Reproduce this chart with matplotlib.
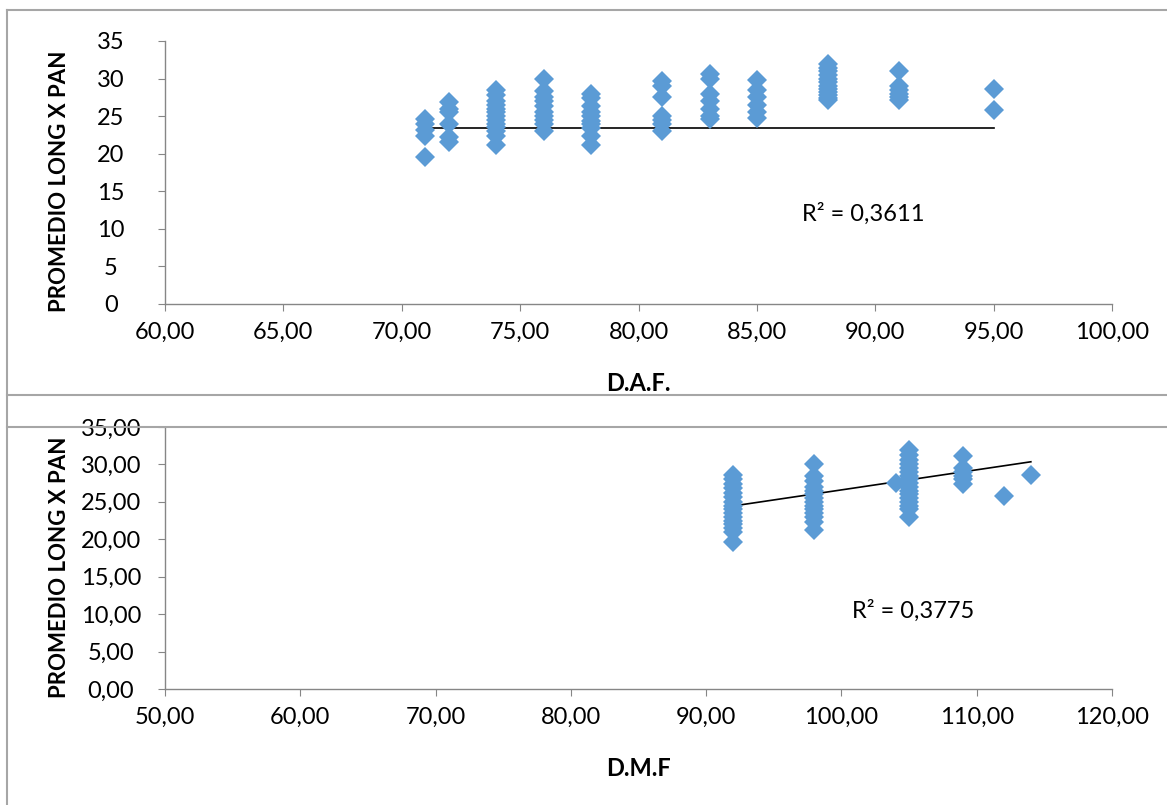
import matplotlib.pyplot as plt
from matplotlib.lines import Line2D
from matplotlib.ticker import FuncFormatter

# Datos superiores: D.A.F. vs promedio long x pan
daf_cols = [71, 72, 74, 76, 78, 81, 83, 85, 88, 91, 95]
daf_vals = [
    [24.6, 24.0, 23.2, 22.3, 19.5],
    [26.9, 26.0, 25.5, 24.0, 22.2, 21.6],
    [28.5, 27.8, 27.0, 26.5, 26.0, 25.5, 25.0, 24.5, 24.0, 23.5, 23.0, 22.3, 21.2],
    [29.9, 28.3, 27.6, 27.0, 26.3, 25.6, 25.0, 24.5, 24.0, 23.0],
    [28.0, 27.4, 26.4, 25.6, 25.0, 24.4, 24.0, 23.4, 22.4, 21.2],
    [29.7, 29.0, 27.5, 25.0, 24.5, 24.0, 23.0],
    [30.6, 30.0, 28.0, 27.0, 26.0, 25.0, 24.6],
    [29.8, 28.5, 27.5, 26.5, 25.5, 24.8],
    [31.9, 31.4, 31.0, 30.5, 30.0, 29.5, 29.0, 28.6, 28.2, 27.8, 27.4, 27.1],
    [31.0, 29.0, 28.5, 28.0, 27.5, 27.2],
    [28.6, 25.8],
]
daf_trend_x = [71, 95]
daf_trend_y = [23.4, 23.4]
daf_r2 = 'R² = 0,3611'

# Datos inferiores: D.M.F vs promedio long x pan
dmf_cols = [92, 98, 104, 105, 109, 112, 114]
dmf_vals = [
    [28.6, 28.0, 27.4, 26.8, 26.2, 25.6, 25.0, 24.5, 24.0, 23.5, 23.0, 22.5, 22.0, 21.5, 21.0, 19.6],
    [30.0, 28.5, 27.8, 27.0, 26.5, 26.0, 25.5, 25.0, 24.5, 24.0, 23.5, 23.0, 22.3, 21.2],
    [27.5],
    [31.9, 31.3, 30.6, 30.0, 29.5, 29.0, 28.5, 28.0, 27.5, 27.0, 26.5, 26.0, 25.5, 25.0, 24.5, 24.0, 23.0],
    [31.1, 29.5, 29.0, 28.5, 28.0, 27.4],
    [25.8],
    [28.6],
]
dmf_trend_x = [92, 114]
dmf_trend_y = [24.45, 30.35]
dmf_r2 = 'R² = 0,3775'

plt.rcParams['font.family'] = ['Lato', 'DejaVu Sans']
azul = '#5B9BD5'
gris = '#A6A6A6'

fig = plt.figure(figsize=(11.67, 8.05), dpi=100)

def coma(dec):
    return FuncFormatter(lambda v, p: f'{v:.{dec}f}'.replace('.', ','))

def dibujar(ax, cols, vals, tx, ty, r2, r2pos, xlim, xstep, ydec, xlabel):
    xs = [c for c, v in zip(cols, vals) for _ in v]
    ys = [y for v in vals for y in v]
    ax.plot(xs, ys, 'D', color=azul, markersize=10.5, markeredgewidth=0, zorder=3)
    ax.plot(tx, ty, color='black', lw=1.2, zorder=2)
    ax.text(r2pos[0], r2pos[1], r2, fontsize=17, color='black')
    ax.set_xlim(*xlim)
    ax.set_ylim(0, 35)
    ax.set_xticks(range(xlim[0], xlim[1] + 1, xstep))
    ax.set_yticks(range(0, 36, 5))
    ax.xaxis.set_major_formatter(coma(2))
    ax.yaxis.set_major_formatter(coma(ydec))
    for s in ['top', 'right']:
        ax.spines[s].set_visible(False)
    for s in ['left', 'bottom']:
        ax.spines[s].set_color('#868686')
        ax.spines[s].set_linewidth(1)
    ax.tick_params(direction='out', length=5, color='#868686', labelsize=17)
    ax.tick_params(axis='x', pad=8)
    ax.tick_params(axis='y', pad=34)
    for lab in ax.get_yticklabels():
        lab.set_horizontalalignment('center')
    ax.set_xlabel(xlabel, fontsize=17, fontweight='bold', labelpad=21)
    ax.set_ylabel('PROMEDIO LONG X PAN', fontsize=16, fontweight='bold')
    ax.yaxis.set_label_coords(-0.100, 0.465)

ax1 = fig.add_axes([0.1414, 0.6224, 0.8115, 0.3267])
dibujar(ax1, daf_cols, daf_vals, daf_trend_x, daf_trend_y, daf_r2, (86.9, 11.0),
        (60, 100), 5, 0, 'D.A.F.')

ax2 = fig.add_axes([0.1414, 0.1441, 0.8115, 0.3255])
dibujar(ax2, dmf_cols, dmf_vals, dmf_trend_x, dmf_trend_y, dmf_r2, (100.8, 9.5),
        (50, 120), 10, 2, 'D.M.F')

# Bordes de los gráficos
for y in [1 - 10 / 805, 1 - 395 / 805, 1 - 427 / 805]:
    fig.add_artist(Line2D([7 / 1167, 1], [y, y], color=gris, lw=1.5))
fig.add_artist(Line2D([7 / 1167, 7 / 1167], [0, 1 - 10 / 805], color=gris, lw=1.5))

fig.savefig('out.png', dpi=100)
